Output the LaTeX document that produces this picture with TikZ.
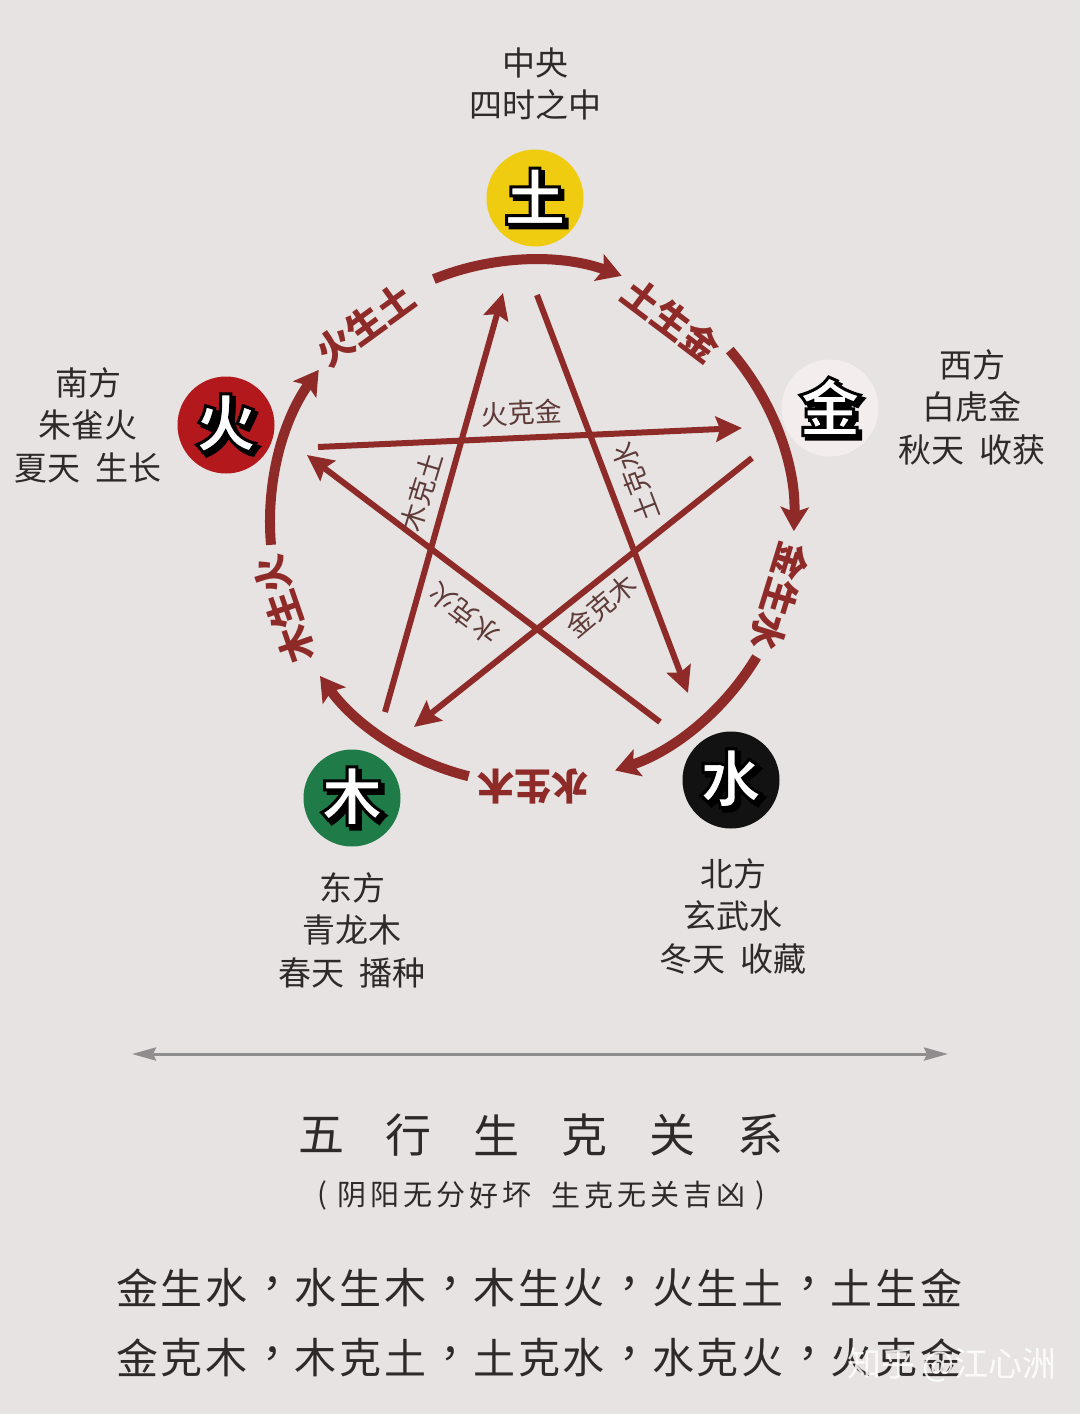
\documentclass[tikz,border=0pt]{standalone}
\usepackage{fontspec}
\newfontfamily\cjk{Noto Sans CJK SC}
\usetikzlibrary{arrows.meta,calc}
\definecolor{bg}{HTML}{E6E3E2}
\definecolor{wred}{HTML}{8E2B28}
\definecolor{lbl}{HTML}{5E3A38}
\definecolor{txt}{HTML}{2E2A2A}
\definecolor{tuY}{HTML}{F0CC10}
\definecolor{jinW}{HTML}{F4EDED}
\definecolor{muG}{HTML}{1F7C49}
\definecolor{huoR}{HTML}{B3181D}
\definecolor{shuiK}{HTML}{121212}
\definecolor{greyline}{HTML}{8F8D8D}
\newcommand\wxstroke[2]{\special{pdf:literal direct 2 Tr #1 w 0 0 0 RG}#2\special{pdf:literal direct 0 Tr}}
\newcommand\wxglyph[1]{\makebox[0pt][l]{\hspace{3.5pt}\raisebox{-3.5pt}{\color{black}\wxstroke{3}{#1}}}\wxstroke{3}{#1}}
\newcommand\wxelem[2]{%
  \node[elemglyph,text=white] (#1-g) at (#1.center) {\wxglyph{#2}};}
\begin{document}
\begin{tikzpicture}[x=1pt,y=-1pt,
  elemcircle/.style={circle,minimum size=97pt,inner sep=0pt},
  elemglyph/.style={inner sep=0pt,font=\cjk\bfseries\fontsize{62}{62}\selectfont},
  arcline/.style={draw=wred,line width=10pt,-{Stealth[length=24pt,width=28pt,inset=5pt]}},
  starline/.style={draw=wred,line width=6pt,-{Stealth[length=26pt,width=25pt,inset=4pt]}},
  arclbl/.style={text=wred,inner sep=0pt,font=\cjk\bfseries\fontsize{37}{37}\selectfont},
  starlbl/.style={text=lbl,inner sep=0pt,font=\cjk\fontsize{27}{27}\selectfont},
  sidetxt/.style={text=txt,align=center,inner sep=0pt,font=\cjk\fontsize{33}{42.5}\selectfont},
  titletxt/.style={text=txt,inner sep=0pt,font=\cjk\fontsize{46}{46}\selectfont},
  subtxt/.style={text=txt,inner sep=0pt,font=\cjk\fontsize{29}{29}\selectfont},
  rowtxt/.style={text=txt,inner sep=0pt,font=\cjk\fontsize{42}{42}\selectfont},
]
\path[use as bounding box,fill=bg] (0,0) rectangle (1080,1414);

% centre of the cycle circle
\coordinate (O) at (532,522);

% generating cycle arcs
\draw[arcline] ($(O)+(-112:262)$) arc[start angle=-112,end angle=-70,radius=262];
\draw[arcline] ($(O)+(-41:262)$) arc[start angle=-41,end angle=2,radius=262];
\draw[arcline] ($(O)+(31:262)$) arc[start angle=31,end angle=71.5,radius=262];
\draw[arcline] ($(O)+(104:262)$) arc[start angle=104,end angle=144,radius=262];
\draw[arcline] ($(O)+(175:262)$) arc[start angle=175,end angle=215.5,radius=262];

% arc labels
\node[arclbl,rotate=36] (l-huotu) at (365,325) {火生土};
\node[arclbl,rotate=-37] (l-tujin) at (672,320) {土生金};
\node[arclbl,rotate=-107] (l-jinshui) at (780,597) {金生水};
\node[arclbl,rotate=180] (l-shuimu) at (533,787) {水生木};
\node[arclbl,rotate=109] (l-muhuo) at (284,610) {木生火};

% star (controlling cycle)
\coordinate (s1a) at (318,447); \coordinate (s1b) at (742,428);
\coordinate (s2a) at (385,712); \coordinate (s2b) at (503,293);
\coordinate (s3a) at (537,295); \coordinate (s3b) at (688,693);
\coordinate (s4a) at (752,458); \coordinate (s4b) at (414,727);
\coordinate (s5a) at (660,722); \coordinate (s5b) at (307,455);
\draw[starline] (s1a) -- (s1b);
\draw[starline] (s2a) -- (s2b);
\draw[starline] (s3a) -- (s3b);
\draw[starline] (s4a) -- (s4b);
\draw[starline] (s5a) -- (s5b);

\node[starlbl,rotate=2.5] (k-huojin) at (522,413) {火克金};
\node[starlbl,rotate=73] (k-mutu) at (422,492) {木克土};
\node[starlbl,rotate=111] (k-tushui) at (636,482) {土克水};
\node[starlbl,rotate=143] (k-shuihuo) at (464,614) {水克火};
\node[starlbl,rotate=40] (k-jinmu) at (601,606) {金克木};

% element discs
\node[elemcircle,fill=tuY] (tu) at (535,198) {};
\node[elemcircle,fill=jinW] (jin) at (830,408) {};
\node[elemcircle,fill=shuiK] (shui) at (731,780) {};
\node[elemcircle,fill=muG] (mu) at (352,798) {};
\node[elemcircle,fill=huoR] (huo) at (226,425) {};
\wxelem{tu}{土}
\wxelem{jin}{金}
\wxelem{shui}{水}
\wxelem{mu}{木}
\wxelem{huo}{火}

% side texts
\node[sidetxt] (t-tu) at (535,84) {中央\\四时之中};
\node[sidetxt] (t-huo) at (88,425) {南方\\朱雀火\\夏天\hspace{0.45em}生长};
\node[sidetxt] (t-jin) at (972,407) {西方\\白虎金\\秋天\hspace{0.45em}收获};
\node[sidetxt] (t-mu) at (352,930) {东方\\青龙木\\春天\hspace{0.45em}播种};
\node[sidetxt] (t-shui) at (733,916) {北方\\玄武水\\冬天\hspace{0.45em}收藏};

% divider
\coordinate (dl) at (132,1054); \coordinate (dr) at (948,1054);
\draw[greyline,line width=3pt,{Stealth[length=24pt,width=13pt,inset=3pt]}-{Stealth[length=24pt,width=13pt,inset=3pt]}] (dl) -- (dr);

% title
\foreach \c [count=\i from 0] in {五,行,生,克,关,系}
  \node[titletxt] (ti-\i) at (321+87.8*\i,1135) {\c};

% subtitle
\node[subtxt] (su-l) at (322,1195) {(};
\foreach \c [count=\i from 0] in {阴,阳,无,分,好,坏}
  \node[subtxt] (su-a\i) at (352+33*\i,1195) {\c};
\foreach \c [count=\i from 0] in {生,克,无,关,吉,凶}
  \node[subtxt] (su-b\i) at (566+33*\i,1195) {\c};
\node[subtxt] (su-r) at (760,1195) {)};

% rows
\foreach \a/\b/\c [count=\g from 0] in {金/生/水,水/生/木,木/生/火,火/生/土,土/生/金}{
  \node[rowtxt] (r1-\g a) at (137+44.67*4*\g,1288) {\a};
  \node[rowtxt] (r1-\g b) at (137+44.67*4*\g+44.67,1288) {\b};
  \node[rowtxt] (r1-\g c) at (137+44.67*4*\g+89.34,1288) {\c};
}
\foreach \g in {0,1,2,3}
  \node[rowtxt] (r1-\g p) at (149+44.67*4*\g+134,1284) {，};
\foreach \a/\b/\c [count=\g from 0] in {金/克/木,木/克/土,土/克/水,水/克/火,火/克/金}{
  \node[rowtxt] (r2-\g a) at (137+44.67*4*\g,1358) {\a};
  \node[rowtxt] (r2-\g b) at (137+44.67*4*\g+44.67,1358) {\b};
  \node[rowtxt] (r2-\g c) at (137+44.67*4*\g+89.34,1358) {\c};
}
\foreach \g in {0,1,2,3}
  \node[rowtxt] (r2-\g p) at (149+44.67*4*\g+134,1354) {，};

% watermark
\node[text=white,opacity=0.85,inner sep=0pt,font=\cjk\fontsize{34}{34}\selectfont] (wm) at (952,1365) {知乎 @江心洲};
\end{tikzpicture}
\end{document}
